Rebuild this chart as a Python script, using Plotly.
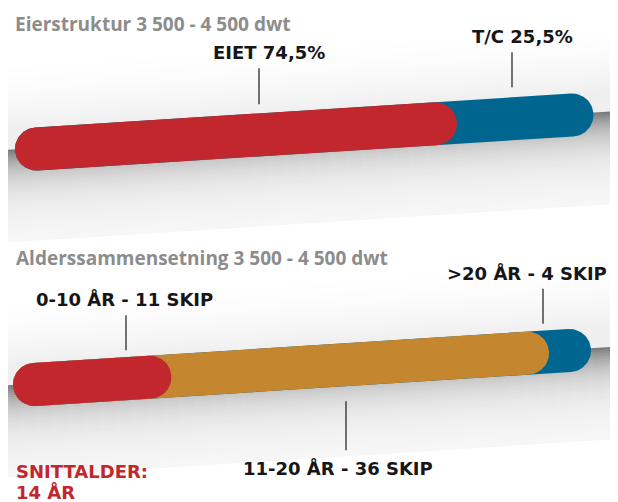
import numpy as np
import plotly.graph_objects as go

# ---------------- data ----------------
titles = ["Eierstruktur 3 500 - 4 500 dwt", "Alderssammensetning 3 500 - 4 500 dwt"]
owner_labels = ["EIET 74,5%", "T/C 25,5%"]
owner_share = [74.5, 25.5]
age_labels = ["0-10 ÅR - 11 SKIP", "11-20 ÅR - 36 SKIP", ">20 ÅR - 4 SKIP"]
age_ships = [11, 36, 4]
avg_label = ["SNITTALDER:", "14 ÅR"]

# ---------------- style / layout ----------------
owner_colors = ["#C1272D", "#00668F"]
age_colors = ["#C1272D", "#C4862F", "#00668F"]
PAGE_W, PAGE_H = 618, 502
OFF = 8  # default page body margin
W, H = PAGE_W - 2 * OFF, PAGE_H - OFF
R = 21.5
bars = [
    dict(p0=(36.5, 149.0), p1=(572.0, 115.0)),
    dict(p0=(34.5, 384.5), p1=(569.5, 350.5)),
]
owner_anchor_x = [259, 512]
owner_side = ["top", "top"]
age_anchor_x = [126, 346, 543]
age_side = ["top", "bottom", "top"]

LABEL_FONT = dict(family="DejaVu Sans", size=18, color="#161616", weight="bold")

fig = go.Figure()


def center_y(bar, x):
    (x0, y0), (x1, y1) = bar["p0"], bar["p1"]
    return y0 + (y1 - y0) * (x - x0) / (x1 - x0)


def stadium(a, b, r, n=40):
    a = np.array(a, float)
    b = np.array(b, float)
    u = (b - a) / np.linalg.norm(b - a)
    nv = np.array([-u[1], u[0]])
    phi1 = np.linspace(np.pi / 2, 3 * np.pi / 2, n)
    phi2 = np.linspace(-np.pi / 2, np.pi / 2, n)
    pa = a[None, :] + r * (np.cos(phi1)[:, None] * u + np.sin(phi1)[:, None] * nv)
    pb = b[None, :] + r * (np.cos(phi2)[:, None] * u + np.sin(phi2)[:, None] * nv)
    pts = np.vstack([pa, pb, pa[:1]])
    return pts[:, 0], pts[:, 1]


def shade(d):
    if d < 0:
        t = (d + 95) / (95 - 22)
        return 255 - 16 * max(0.0, min(1.0, t)) ** 2.0
    return 255 - 50 * np.exp(-(d - 22) / 24) - 6


def add_shadow(bar):
    xs = np.array([0.0, PAGE_W])
    step = 2.0
    for d in np.arange(-95, 90, step):
        g = int(round(shade(d + step / 2)))
        if g >= 255:
            continue
        yc = np.array([center_y(bar, x) for x in xs])
        px = [xs[0], xs[1], xs[1], xs[0], xs[0]]
        py = [yc[0] + d, yc[1] + d, yc[1] + d + step + 0.6, yc[0] + d + step + 0.6, yc[0] + d]
        fig.add_trace(go.Scatter(x=px, y=py, mode="lines", fill="toself",
                                 fillcolor=f"rgb({g},{g},{g})", line=dict(width=0),
                                 hoverinfo="skip", showlegend=False))


def add_bar(bar, values, colors, labels):
    vals = np.array(values, float)
    cum = np.cumsum(vals) / vals.sum()
    a = np.array(bar["p0"])
    b = np.array(bar["p1"])
    for k in range(len(vals) - 1, -1, -1):
        end = a + cum[k] * (b - a)
        x, y = stadium(a, end, R)
        fig.add_trace(go.Scatter(x=x, y=y, mode="lines", fill="toself",
                                 fillcolor=colors[k], line=dict(width=0, color=colors[k]),
                                 name=labels[k], hoverinfo="name", showlegend=False))


def add_label(bar, x, side, text, gap, length, xanchor="center", tx=None):
    yc = center_y(bar, x)
    if side == "top":
        y_near = yc - R - gap
        y_far = y_near - length
        ty = y_far - 16
    else:
        y_near = yc + R + gap
        y_far = y_near + length
        ty = y_far + 18
    fig.add_trace(go.Scatter(x=[x, x], y=[y_near, y_far], mode="lines",
                             line=dict(color="#2a2a2a", width=1.3),
                             hoverinfo="skip", showlegend=False))
    fig.add_annotation(x=tx if tx is not None else x, y=ty, text=text, showarrow=False,
                       xanchor=xanchor, yanchor="middle", font=LABEL_FONT)


add_shadow(bars[0])
add_shadow(bars[1])
add_bar(bars[0], owner_share, owner_colors, owner_labels)
add_bar(bars[1], age_ships, age_colors, age_labels)

add_label(bars[0], owner_anchor_x[0], owner_side[0], owner_labels[0], 9, 36, tx=owner_anchor_x[0] + 10)
add_label(bars[0], owner_anchor_x[1], owner_side[1], owner_labels[1], 10, 35, tx=owner_anchor_x[1] + 10)
add_label(bars[1], age_anchor_x[0], age_side[0], age_labels[0], 7, 35, tx=age_anchor_x[0] - 2)
add_label(bars[1], age_anchor_x[1], age_side[1], age_labels[1], 15, 49, tx=age_anchor_x[1] - 8)
add_label(bars[1], age_anchor_x[2], age_side[2], age_labels[2], 7, 35, xanchor="right",
          tx=OFF + W - 1)

title_font = dict(family="Open Sans", size=19, color="#8c8c8c", weight="bold")
fig.add_annotation(x=13, y=24, text=titles[0], showarrow=False, xanchor="left",
                   yanchor="middle", font=title_font)
fig.add_annotation(x=14, y=258, text=titles[1], showarrow=False, xanchor="left",
                   yanchor="middle", font=title_font)

avg_font = dict(family="DejaVu Sans", size=18, color="#C1272D", weight="bold")
fig.add_annotation(x=14, y=471, text=avg_label[0], showarrow=False, xanchor="left",
                   yanchor="middle", font=avg_font)
fig.add_annotation(x=14, y=492, text=avg_label[1], showarrow=False, xanchor="left",
                   yanchor="middle", font=avg_font)

fig.update_layout(
    width=W, height=H,
    margin=dict(l=0, r=0, t=0, b=0),
    paper_bgcolor="white", plot_bgcolor="white",
    xaxis=dict(range=[OFF, OFF + W], visible=False, fixedrange=True),
    yaxis=dict(range=[OFF + H, OFF], visible=False, fixedrange=True),
    showlegend=False,
)

fig.write_html("out.html")
